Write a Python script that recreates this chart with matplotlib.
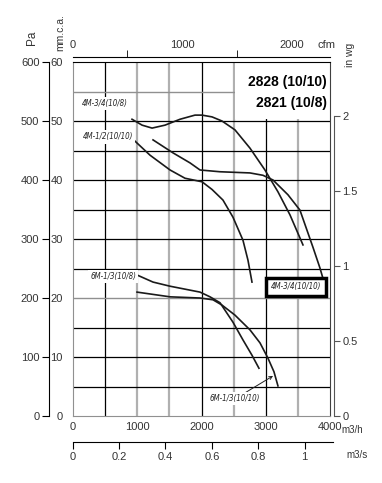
import matplotlib.pyplot as plt
from matplotlib.patches import Rectangle
from matplotlib import font_manager as fm

plt.rcParams['font.family'] = ['Liberation Sans', 'DejaVu Sans']

# --- curve data: airflow (m3/h) vs static pressure (mm c.a.) ---
q_4m34_108 = [922, 1078, 1233, 1434, 1667, 1899, 2008, 2163, 2318, 2519, 2752, 2984, 3186, 3372, 3574]
p_4m34_108 = [50.3, 49.3, 48.8, 49.3, 50.3, 51.0, 51.0, 50.7, 50.0, 48.5, 45.4, 41.7, 38.0, 34.1, 29.0]

q_4m12_1010 = [938, 1202, 1512, 1744, 2008, 2163, 2333, 2488, 2643, 2721, 2783]
p_4m12_1010 = [46.9, 44.2, 41.7, 40.3, 39.7, 38.4, 36.6, 33.7, 29.8, 26.4, 22.7]

q_4m34_1010 = [1248, 1558, 1822, 1977, 2287, 2752, 2953, 3109, 3341, 3527, 3729, 3837, 3946]
p_4m34_1010 = [46.8, 44.6, 42.9, 41.7, 41.4, 41.2, 40.8, 40.0, 37.5, 34.9, 28.6, 25.1, 21.0]

q_6m13_108 = [1000, 1248, 1512, 1977, 2132, 2287, 2488, 2643, 2783, 2891]
p_6m13_108 = [23.9, 22.7, 22.0, 21.0, 20.2, 19.2, 15.9, 12.9, 10.3, 8.1]

q_6m13_1010 = [1000, 1512, 1977, 2178, 2318, 2519, 2752, 2907, 3031, 3124, 3186]
p_6m13_1010 = [21.0, 20.2, 20.0, 19.7, 18.8, 17.1, 14.6, 12.4, 9.8, 7.5, 5.1]

mmh_ticks = [0, 1000, 2000, 3000, 4000]
mm_ticks = [0, 10, 20, 30, 40, 50, 60]
pa_ticks = [0, 100, 200, 300, 400, 500, 600]
inwg_ticks = [0, 0.5, 1, 1.5, 2]
cfm_ticks = [0, 1000, 2000]
cfm_minor = [500, 1500]
m3s_ticks = [0, 0.2, 0.4, 0.6, 0.8, 1]
m3s_labels = ['0', '0.2', '0.4', '0.6', '0.8', '1']

# narrow font for the curve labels, if one is around
narrow = dict(family=['Liberation Sans'], stretch='normal', size=5.2)
try:
    fm.findfont(fm.FontProperties(family='Liberation Sans Narrow'), fallback_to_default=False)
    narrow = dict(family=['Liberation Sans Narrow', 'Liberation Sans'], stretch='normal', size=6.2)
except ValueError:
    path = fm.findfont(fm.FontProperties(family='DejaVu Sans', stretch='condensed'))
    if 'Condensed' in path:
        narrow = dict(family=['DejaVu Sans'], stretch='condensed', size=5.7)

fig = plt.figure(figsize=(3.82, 4.83), dpi=100)
ax = fig.add_axes([0.19, 0.1387, 0.675, 0.7329])
ax.set_xlim(0, 4000)
ax.set_ylim(0, 60)

# grid
for x in [500, 2000, 3000]:
    ax.axvline(x, color='black', lw=0.9, zorder=1)
for x in [1000, 1500, 2500, 3500]:
    ax.axvline(x, color='#b0b0b0', lw=1.6, zorder=1)
for y in [5, 10, 15, 25, 30, 35, 40, 45, 50]:
    ax.axhline(y, color='black', lw=0.9, zorder=1)
for y in [20, 55]:
    ax.axhline(y, color='#909090', lw=1.0, zorder=1)
ax.add_patch(Rectangle((2515, 50.35), 1480, 9.6, facecolor='white', edgecolor='none', zorder=1.5))

ax.spines['top'].set_color('black')
ax.spines['right'].set_color('#404040')
ax.spines['left'].set_color('#909090')
ax.spines['bottom'].set_color('#909090')

# curves
for q, p in [(q_4m34_108, p_4m34_108), (q_4m12_1010, p_4m12_1010), (q_4m34_1010, p_4m34_1010),
             (q_6m13_108, p_6m13_108), (q_6m13_1010, p_6m13_1010)]:
    ax.plot(q, p, color='#1a1a1a', lw=1.2, zorder=3)

lab_font = dict(family=narrow['family'], stretch=narrow['stretch'], style='italic',
                fontsize=narrow['size'], color='#222222')
wbox = dict(facecolor='white', edgecolor='none', pad=1.5)
ax.text(504, 53.0, '4M-3/4(10/8)', ha='center', va='center', bbox=wbox, zorder=4, **lab_font)
ax.text(550, 47.3, '4M-1/2(10/10)', ha='center', va='center', bbox=wbox, zorder=4, **lab_font)
ax.text(628, 23.7, '6M-1/3(10/8)', ha='center', va='center', bbox=wbox, zorder=4, **lab_font)
ax.annotate('6M-1/3(10/10)', xy=(3110, 6.8), xytext=(2519, 2.9), ha='center', va='center',
            bbox=wbox, zorder=4, arrowprops=dict(arrowstyle='->', color='#222222', lw=0.7,
                                                 shrinkA=0, shrinkB=0), **lab_font)
ax.text(3465, 21.9, '4M-3/4(10/10)', ha='center', va='center', zorder=4,
        bbox=dict(boxstyle='square,pad=0.6', facecolor='white', edgecolor='black', lw=2.5), **lab_font)

ax.text(3946, 56.6, '2828 (10/10)', ha='right', va='center', fontsize=10, fontweight='bold', zorder=4)
ax.text(3946, 53.05, '2821 (10/8)', ha='right', va='center', fontsize=10, fontweight='bold', zorder=4)

# main axes ticks: m3/h and mm.c.a.
ax.set_xticks(mmh_ticks)
ax.set_yticks(mm_ticks)
ax.tick_params(axis='x', length=0, pad=4, labelsize=8, labelcolor='#333333')
ax.tick_params(axis='y', length=0, pad=7, labelsize=8, labelcolor='#333333')

# Pa axis (left, outside)
pa_ax = ax.secondary_yaxis(-0.091, functions=(lambda v: v * 10, lambda v: v / 10))
pa_ax.set_yticks(pa_ticks)
pa_ax.tick_params(length=5, pad=2, labelsize=8, labelcolor='#333333')

# in wg axis (right)
wg_ax = ax.secondary_yaxis(1.0136, functions=(lambda v: v / 25.4, lambda v: v * 25.4))
wg_ax.set_yticks(inwg_ticks)
wg_ax.set_yticklabels(['0', '0.5', '1', '1.5', '2'])
wg_ax.spines['right'].set_bounds(0, 2)
wg_ax.spines['right'].set_color('#555555')
wg_ax.tick_params(length=4, pad=2, labelsize=8, labelcolor='#333333', color='#555555')

# cfm axis (top)
cfm_ax = ax.secondary_xaxis(1.0141, functions=(lambda v: v / 1.699, lambda v: v * 1.699))
cfm_ax.set_xticks(cfm_ticks)
cfm_ax.set_xticks(cfm_minor, minor=True)
cfm_ax.tick_params(which='major', length=0, pad=5, labelsize=8, labelcolor='#333333')
cfm_ax.tick_params(which='minor', length=5)

# m3/s axis (bottom, outside)
m3s_ax = ax.secondary_xaxis(-0.0734, functions=(lambda v: v / 3600, lambda v: v * 3600))
m3s_ax.set_xticks(m3s_ticks)
m3s_ax.set_xticklabels(m3s_labels)
m3s_ax.spines['bottom'].set_bounds(0, 1.122)
m3s_ax.tick_params(length=5, pad=2, labelsize=8, labelcolor='#333333')

# unit labels
fig.text(32 / 382, 1 - 38 / 483, 'Pa', rotation=90, ha='center', va='center', fontsize=8.5, color='#333333')
fig.text(60 / 382, 1 - 33 / 483, 'mm.c.a.', rotation=90, ha='center', va='center', fontsize=7.5, color='#333333')
fig.text(350 / 382, 1 - 55 / 483, 'in wg', rotation=90, ha='center', va='center', fontsize=7.5, color='#333333')
fig.text(327 / 382, 1 - 45 / 483, 'cfm', ha='center', va='center', fontsize=8, color='#333333')
fig.text(352 / 382, 1 - 430 / 483, 'm3/h', ha='center', va='center', fontsize=7, color='#333333')
fig.text(357 / 382, 1 - 455 / 483, 'm3/s', ha='center', va='center', fontsize=7, color='#333333')

fig.savefig('out.png', dpi=100)
